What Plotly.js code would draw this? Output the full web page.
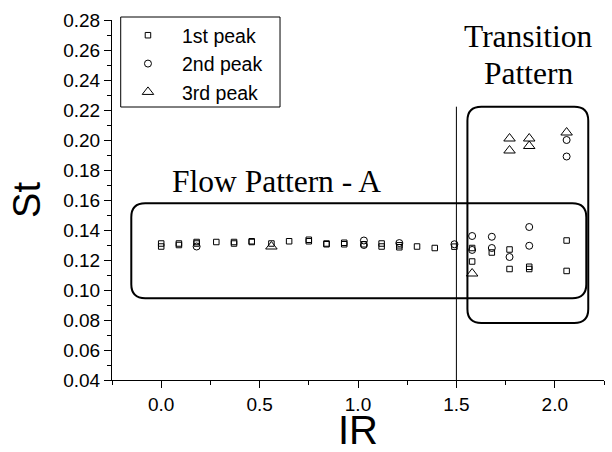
<!DOCTYPE html>
<html>
<head>
<meta charset="utf-8">
<script src="https://cdn.plot.ly/plotly-3.0.1.min.js"></script>
<style>html,body{margin:0;padding:0;background:#fff;}#chart{width:612px;height:452px;}</style>
</head>
<body>
<div id="chart"></div>
<script>
// ---- data ----
const seriesNames = ["1st peak", "2nd peak", "3rd peak"];

const peak1X = [0, 0, 0.09, 0.09, 0.18, 0.18, 0.28, 0.37, 0.37, 0.46, 0.46, 0.56, 0.65, 0.75, 0.75, 0.84, 0.84, 0.93, 0.93, 1.03, 1.12, 1.12, 1.21, 1.21, 1.30, 1.39, 1.49, 1.58, 1.58, 1.68, 1.77, 1.77, 1.87, 1.87, 2.06, 2.06];
const peak1Y = [0.131, 0.129, 0.131, 0.130, 0.132, 0.131, 0.132, 0.132, 0.131, 0.1325, 0.132, 0.131, 0.1325, 0.1335, 0.1325, 0.131, 0.1305, 0.1315, 0.1305, 0.1305, 0.131, 0.129, 0.1298, 0.1285, 0.129, 0.128, 0.1289, 0.128, 0.119, 0.125, 0.127, 0.114, 0.1155, 0.114, 0.133, 0.1127];

const peak2X = [0.18, 1.03, 1.03, 1.21, 1.49, 1.58, 1.58, 1.68, 1.68, 1.77, 1.87, 1.87, 2.06, 2.06];
const peak2Y = [0.129, 0.133, 0.130, 0.1313, 0.1305, 0.136, 0.1267, 0.1355, 0.128, 0.122, 0.142, 0.1295, 0.200, 0.189];

const peak3X = [0.56, 1.58, 1.77, 1.77, 1.87, 1.87, 2.06];
const peak3Y = [0.129, 0.111, 0.201, 0.193, 0.201, 0.196, 0.205];

// region boxes [x0, x1, y0, y1] in data units
const flowBox = [-0.152, 2.16, 0.0945, 0.1578];
const transitionBox = [1.556, 2.17, 0.078, 0.2222];
const dividerX = 1.5;
const dividerTop = 0.2222;

const xRange = [-0.25, 2.25];
const yRange = [0.04, 0.28];

// ---- helpers ----
function roundRect(b, rx, ry) {
  const [x0, x1, y0, y1] = b;
  return `M${x0 + rx},${y0} L${x1 - rx},${y0} Q${x1},${y0} ${x1},${y0 + ry} ` +
         `L${x1},${y1 - ry} Q${x1},${y1} ${x1 - rx},${y1} ` +
         `L${x0 + rx},${y1} Q${x0},${y1} ${x0},${y1 - ry} ` +
         `L${x0},${y0 + ry} Q${x0},${y0} ${x0 + rx},${y0} Z`;
}

const sans = "Liberation Sans, Arial, sans-serif";
const serif = "Liberation Serif, Times New Roman, serif";

const traces = [
  {x: peak1X, y: peak1Y, name: seriesNames[0], type: "scatter", mode: "markers",
   marker: {symbol: "square-open", size: 5.5, color: "black", line: {width: 1, color: "black"}}},
  {x: peak2X, y: peak2Y, name: seriesNames[1], type: "scatter", mode: "markers",
   marker: {symbol: "circle-open", size: 7, color: "black", line: {width: 1, color: "black"}}},
  {x: peak3X, y: peak3Y, name: seriesNames[2], type: "scatter", mode: "markers",
   marker: {symbol: "triangle-up-open", size: 10, color: "black", line: {width: 1, color: "black"}}}
];

const axisCommon = {
  showgrid: false, zeroline: false, showline: true, linecolor: "black", linewidth: 1,
  ticks: "outside", ticklen: 7, tickwidth: 1, tickcolor: "black",
  tickfont: {family: sans, size: 19, color: "black"},
  mirror: false
};

const layout = {
  width: 612, height: 452,
  margin: {l: 112, r: 8, t: 20, b: 72},
  paper_bgcolor: "white", plot_bgcolor: "white",
  font: {family: sans, color: "black"},
  showlegend: true,
  legend: {x: 0.004, y: 1.011, xanchor: "left", yanchor: "top", itemwidth: 58,
           bgcolor: "rgba(0,0,0,0)", borderwidth: 0,
           font: {family: sans, size: 19.5, color: "black"}},
  xaxis: Object.assign({}, axisCommon, {
    range: xRange, tick0: 0, dtick: 0.5, tickformat: ".1f",
    minor: {dtick: 0.25, ticks: "outside", ticklen: 4, tickcolor: "black"},
    title: {text: "IR", font: {family: sans, size: 40, color: "black"}, standoff: 9}
  }),
  yaxis: Object.assign({}, axisCommon, {
    range: yRange, tick0: 0.04, dtick: 0.02, tickformat: ".2f",
    minor: {dtick: 0.01, ticks: "outside", ticklen: 4, tickcolor: "black"},
    title: {text: "St", font: {family: sans, size: 38, color: "black"}, standoff: 10}
  }),
  shapes: [
    {type: "path", xref: "x", yref: "y", path: roundRect(flowBox, 0.071, 0.0093),
     line: {color: "black", width: 2}},
    {type: "path", xref: "x", yref: "y", path: roundRect(transitionBox, 0.071, 0.0093),
     line: {color: "black", width: 2}},
    {type: "line", xref: "x", yref: "y", x0: dividerX, x1: dividerX, y0: yRange[0], y1: dividerTop,
     line: {color: "black", width: 1}},
    {type: "rect", xref: "paper", yref: "paper", x0: 0.0177, x1: 0.3415, y0: 0.7583, y1: 1.0083,
     line: {color: "black", width: 1}}
  ],
  annotations: [
    {text: "Flow Pattern - A", x: 0.587, y: 0.1723, xref: "x", yref: "y", showarrow: false,
     xanchor: "center", yanchor: "middle", font: {family: serif, size: 31.5, color: "black"}},
    {text: "Transition", x: 1.866, y: 0.2687, xref: "x", yref: "y", showarrow: false,
     xanchor: "center", yanchor: "middle", font: {family: serif, size: 31.5, color: "black"}},
    {text: "Pattern", x: 1.866, y: 0.2443, xref: "x", yref: "y", showarrow: false,
     xanchor: "center", yanchor: "middle", font: {family: serif, size: 31.5, color: "black"}}
  ]
};

Plotly.newPlot("chart", traces, layout, {staticPlot: true, displayModeBar: false});
</script>
</body>
</html>
